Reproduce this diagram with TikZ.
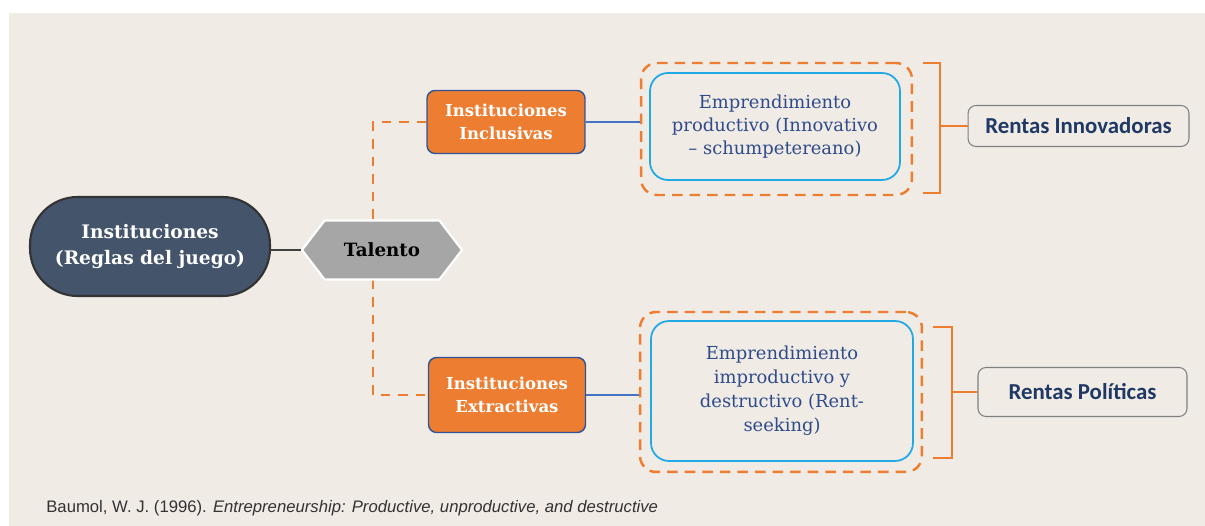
\documentclass[tikz,border=0pt]{standalone}
\usepackage{fontspec}
\setmainfont{DejaVu Serif}
\newfontfamily\carl{Carlito}
\newfontfamily\libsans{Liberation Sans}
\usetikzlibrary{shapes.symbols,shapes.misc}
\definecolor{bg}{HTML}{F0EBE5}
\definecolor{slate}{HTML}{44546A}
\definecolor{orng}{HTML}{ED7D31}
\definecolor{dblue}{HTML}{2F5597}
\definecolor{lblue}{HTML}{4472C4}
\definecolor{cyanb}{HTML}{1FAAE6}
\definecolor{txtblue}{HTML}{2F4B8A}
\definecolor{navy}{HTML}{1F3864}
\definecolor{hexgray}{HTML}{A6A6A6}
\tikzset{
  pill/.style={draw=black!80, line width=1.2pt, fill=slate, rounded corners=0.95cm,
    minimum width=4.8cm, minimum height=1.98cm, text=white, align=center,
    font=\bfseries\fontsize{10.6}{15.3}\selectfont},
  hexnode/.style={signal, signal to=west and east, signal pointer angle=105,
    draw=white, line width=1.2pt, fill=hexgray, minimum width=3.2cm, minimum height=1.18cm,
    font=\bfseries\fontsize{10.4}{12}\selectfont, inner sep=0pt},
  instbox/.style={draw=dblue, line width=0.8pt, fill=orng, rounded corners=0.16cm,
    text=white, align=center, font=\bfseries\fontsize{9.4}{13}\selectfont},
  outerbox/.style={draw=orng, line width=1.4pt, dash pattern=on 6pt off 4pt,
    rounded corners=0.32cm},
  innerbox/.style={draw=cyanb, line width=1pt, rounded corners=0.36cm, text=txtblue,
    align=center, font=\fontsize{10.2}{13}\selectfont},
  rentbox/.style={draw=black!50, line width=0.6pt, rounded corners=0.16cm, text=navy,
    font=\carl\bfseries\fontsize{13}{15}\selectfont},
  dashcon/.style={draw=orng, line width=1.4pt, dash pattern=on 5.5pt off 4.5pt},
  bluecon/.style={draw=lblue, line width=0.8pt},
  bracket/.style={draw=orng, line width=1.4pt},
}
\begin{document}
\begin{tikzpicture}[x=0.02cm, y=-0.02cm]
\useasboundingbox (0,0) rectangle (1205,526);
\fill[bg] (9,13) rectangle (1205,526);

% nodes
\node[pill] (inst) at (150,246.5) {Instituciones\\(Reglas del juego)};
\node[instbox, minimum width=3.16cm, minimum height=1.26cm] (inc) at (506,122) {Instituciones\\Inclusivas};
\node[instbox, minimum width=3.14cm, minimum height=1.5cm] (ext) at (507,395) {Instituciones\\Extractivas};
\coordinate (j) at (373,250);

% dashed connector (behind the hexagon)
\draw[dashcon] (inc.west) -| (j) |- (ext.west);

\node[hexnode] (tal) at (382,250) {Talento};
\draw[black!75, line width=1.6pt] (inst.east |- tal.west) -- (tal.west);

\node[outerbox, minimum width=5.42cm, minimum height=2.64cm] (out1) at (776.5,129) {};
\node[innerbox, minimum width=5.0cm, minimum height=2.14cm] (in1) at (775,126.5)
  {Emprendimiento\\productivo (Innovativo\\– schumpetereano)};
\node[outerbox, minimum width=5.64cm, minimum height=3.2cm] (out2) at (781,392) {};
\node[innerbox, minimum width=5.24cm, minimum height=2.8cm, font=\fontsize{10.2}{13.6}\selectfont] (in2) at (782,391)
  {Emprendimiento\\improductivo y\\destructivo (Rent-\\seeking)};

\draw[bluecon] (inc.east) -- (out1.west |- inc.east);
\draw[bluecon] (ext.east) -- (out2.west |- ext.east);

\node[rentbox, minimum width=4.42cm, minimum height=0.82cm] (rin) at (1078.5,126) {Rentas Innovadoras};
\node[rentbox, minimum width=4.18cm, minimum height=0.98cm] (rpol) at (1082.5,392) {Rentas Políticas};

% brackets
\coordinate (b1) at (940,126);
\coordinate (b2) at (952,392);
\draw[bracket] (923,63) -- (940,63) -- (940,193) -- (923,193);
\draw[bracket] (b1) -- (rin.west);
\draw[bracket] (933,327) -- (952,327) -- (952,458) -- (933,458);
\draw[bracket] (b2) -- (rpol.west);

% caption
\node[anchor=west, inner sep=0pt, text=black!80, font=\libsans\fontsize{9.5}{11}\selectfont] (cap) at (46,508)
  {Baumol, W. J. (1996). \textit{Entrepreneurship: Productive, unproductive, and destructive}};
\end{tikzpicture}
\end{document}
